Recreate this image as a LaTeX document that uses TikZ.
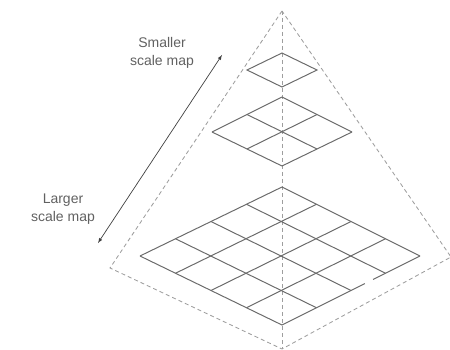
\documentclass[tikz,border=0pt]{standalone}
\usepackage{fontspec}
\setmainfont{Liberation Sans}
\usetikzlibrary{arrows, calc, positioning}

\tikzset{
    gridline/.style={draw=black!58, line width=1pt},
    guideline/.style={draw=black!38, line width=0.85pt, dash pattern=on 4pt off 3pt},
    maplabel/.style={align=center, text=black!62, font=\fontsize{14}{17.5}\selectfont}
}

\begin{document}
\begin{tikzpicture}[x=1pt, y=-1pt]
    \useasboundingbox (0,0) rectangle (450,350);

    % pyramid
    \coordinate (apex) at (282,11);
    \coordinate (baseL) at (110,268);
    \coordinate (baseB) at (282,349);
    \coordinate (baseR) at (451,257);
    \draw[guideline] (apex) -- (baseL) -- (baseB) -- (baseR) -- cycle;
    \draw[guideline] (apex) -- (baseB);

    % top map
    \coordinate (t1) at (282,53);
    \coordinate (l1) at (247,70);
    \coordinate (b1) at (282,87);
    \coordinate (r1) at (317,70);
    \draw[gridline] (t1) -- (l1) -- (b1) -- (r1) -- cycle;

    % middle map
    \coordinate (t2) at (282,97);
    \coordinate (l2) at (212,132);
    \coordinate (b2) at (282,166);
    \coordinate (r2) at (352,132);
    \foreach \i in {0,1,2} {
        \draw[gridline] ($(t2)!\i/2!(l2)$) -- ($(r2)!\i/2!(b2)$);
        \draw[gridline] ($(t2)!\i/2!(r2)$) -- ($(l2)!\i/2!(b2)$);
    }

    % bottom map
    \coordinate (t3) at (282,187);
    \coordinate (l3) at (140,256);
    \coordinate (b3) at (282,325);
    \coordinate (r3) at (420,256);
    \foreach \i in {0,1,2,3} {
        \draw[gridline] ($(t3)!\i/4!(l3)$) -- ($(r3)!\i/4!(b3)$);
        \draw[gridline] ($(t3)!\i/4!(r3)$) -- ($(l3)!\i/4!(b3)$);
    }
    \draw[gridline] (l3) -- (b3) -- ($(b3)!0.6!(r3)$);
    \draw[gridline] ($(b3)!0.66!(r3)$) -- (r3);

    % labels
    \node[maplabel] (smaller) at (162,53) {Smaller\\scale map};
    \node[maplabel] (larger) at (63,209) {Larger\\scale map};

    \coordinate (arrowS) at (222,55);
    \coordinate (arrowL) at (98,243);
    \draw[latex-latex, draw=black!75, line width=0.7pt] (arrowL) -- (arrowS);
\end{tikzpicture}
\end{document}
